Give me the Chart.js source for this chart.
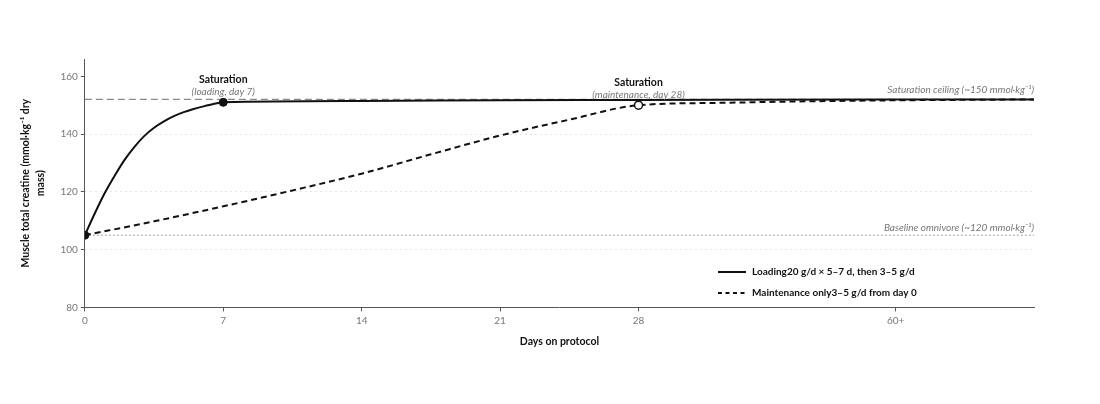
<!DOCTYPE html>
<html>
<head>
<meta charset="utf-8">
<script src="https://cdn.jsdelivr.net/npm/chart.js@4.4.1/dist/chart.umd.min.js"></script>
<style>
  html, body { margin: 0; padding: 0; background: #fff; }
  #wrap { width: 1100px; height: 404px; }
</style>
</head>
<body>
<div id="wrap"><canvas id="creatineChart" width="1100" height="404"></canvas></div>
<script>
// data
const loadingDays = [0, 0.5, 1, 1.5, 2, 2.5, 3, 3.5, 4, 4.5, 5, 5.5, 6, 6.5, 7, 14, 21, 28, 41, 48];
const loadingValues = [105, 112.5, 119.5, 125.5, 131, 135.5, 139.3, 142.2, 144.4, 146.2, 147.6, 148.7, 149.6, 150.4, 151, 151.5, 151.7, 151.8, 152, 152];
const maintDays = [0, 3.5, 7, 10.5, 14, 17.5, 21, 24.5, 28, 32, 36, 41, 48];
const maintValues = [105, 109.8, 115, 120.5, 126.3, 133, 139.5, 145, 150, 150.8, 151.3, 151.7, 152];
const seriesNames = ['Loading20 g/d × 5–7 d, then 3–5 g/d', 'Maintenance only3–5 g/d from day 0'];
const xTickValues = [0, 7, 14, 21, 28, 41];
const xTickLabels = ['0', '7', '14', '21', '28', '60+'];
const yTickValues = [80, 100, 120, 140, 160];
const ceilingValue = 152;
const baselineValue = 105;
const ceilingLabel = 'Saturation ceiling (~150 mmol·kg⁻¹)';
const baselineLabel = 'Baseline omnivore (~120 mmol·kg⁻¹)';
// annotated points: [dataset index, point index, title, subtitle]
const markers = [
  [0, 14, 'Saturation', '(loading, day 7)'],
  [1, 8, 'Saturation', '(maintenance, day 28)']
];

const FONT = "'Source Sans Pro', Lato, 'Noto Sans', sans-serif";

function toPoints(xs, ys) {
  return xs.map((x, i) => ({ x: x, y: ys[i] }));
}

// reference lines + labels + in-plot legend
const overlay = {
  id: 'overlay',
  beforeDatasetsDraw(chart) {
    const { ctx, chartArea, scales } = chart;
    const yC = scales.y.getPixelForValue(ceilingValue);
    const yB = scales.y.getPixelForValue(baselineValue);
    ctx.save();
    ctx.lineWidth = 1.2;
    ctx.strokeStyle = '#8a8a8a';
    ctx.setLineDash([7, 4]);
    ctx.beginPath();
    ctx.moveTo(chartArea.left, yC);
    ctx.lineTo(chartArea.right, yC);
    ctx.stroke();
    ctx.lineWidth = 1;
    ctx.strokeStyle = '#a0a0a0';
    ctx.setLineDash([2, 2]);
    ctx.beginPath();
    ctx.moveTo(chartArea.left, yB);
    ctx.lineTo(chartArea.right, yB);
    ctx.stroke();
    ctx.setLineDash([]);
    ctx.fillStyle = '#777';
    ctx.font = 'italic 10px ' + FONT;
    ctx.textAlign = 'right';
    ctx.textBaseline = 'alphabetic';
    ctx.fillText(ceilingLabel, chartArea.right, yC - 6);
    ctx.fillText(baselineLabel, chartArea.right, yB - 4);
    ctx.restore();
  },
  afterDatasetsDraw(chart) {
    const { ctx } = chart;
    ctx.save();
    ctx.textAlign = 'center';
    markers.forEach(m => {
      const el = chart.getDatasetMeta(m[0]).data[m[1]];
      ctx.fillStyle = '#111';
      ctx.font = 'bold 10.5px ' + FONT;
      ctx.fillText(m[2], el.x, el.y - 19);
      ctx.fillStyle = '#777';
      ctx.font = 'italic 10px ' + FONT;
      ctx.fillText(m[3], el.x, el.y - 7);
    });
    // legend, lower right of the plot
    const lx = 718, ly = [272, 293];
    chart.data.datasets.forEach((ds, i) => {
      ctx.strokeStyle = '#111';
      ctx.lineWidth = 2;
      ctx.setLineDash(i === 1 ? [4, 3.5] : []);
      ctx.beginPath();
      ctx.moveTo(lx, ly[i]);
      ctx.lineTo(lx + 28, ly[i]);
      ctx.stroke();
      ctx.setLineDash([]);
      ctx.fillStyle = '#111';
      ctx.font = 'bold 10px ' + FONT;
      ctx.textAlign = 'left';
      ctx.textBaseline = 'middle';
      ctx.fillText(ds.label, lx + 34, ly[i]);
    });
    ctx.restore();
  }
};

const ctx = document.getElementById('creatineChart').getContext('2d');

new Chart(ctx, {
  type: 'line',
  data: {
    datasets: [{
      label: seriesNames[0],
      data: toPoints(loadingDays, loadingValues),
      borderColor: '#111',
      borderWidth: 2,
      cubicInterpolationMode: 'monotone',
      pointRadius: c => (c.dataIndex === 0 || c.dataIndex === 14) ? 4 : 0,
      pointBackgroundColor: '#111',
      pointBorderColor: '#111',
      pointBorderWidth: 1
    }, {
      label: seriesNames[1],
      data: toPoints(maintDays, maintValues),
      borderColor: '#111',
      borderWidth: 2,
      borderDash: [6, 4],
      cubicInterpolationMode: 'monotone',
      pointRadius: c => c.dataIndex === 8 ? 4 : 0,
      pointBackgroundColor: '#fff',
      pointBorderColor: '#111',
      pointBorderWidth: 1.5
    }]
  },
  options: {
    responsive: false,
    animation: false,
    layout: { padding: { top: 59, right: 66, bottom: 56, left: 18 } },
    scales: {
      x: {
        type: 'linear',
        min: 0,
        max: 48,
        afterBuildTicks: s => { s.ticks = xTickValues.map(v => ({ value: v })); },
        ticks: {
          color: '#777',
          font: { family: FONT, size: 10 },
          padding: 3,
          maxRotation: 0,
          callback: (v) => xTickLabels[xTickValues.indexOf(v)]
        },
        grid: { drawOnChartArea: false, drawTicks: true, tickLength: 4, tickColor: '#555' },
        border: { color: '#555', width: 1 },
        title: {
          display: true,
          text: 'Days on protocol',
          color: '#111',
          font: { family: FONT, size: 10.5, weight: 'bold' },
          padding: { top: 6, bottom: 0 }
        }
      },
      y: {
        min: 80,
        max: 166,
        afterBuildTicks: s => { s.ticks = yTickValues.map(v => ({ value: v })); },
        ticks: {
          color: '#777',
          font: { family: FONT, size: 10 },
          padding: 3
        },
        grid: {
          color: c => (c.tick && (c.tick.value === 80 || c.tick.value === 160)) ? 'rgba(0,0,0,0)' : '#e6e6e6',
          tickColor: '#555',
          tickLength: 4,
          lineWidth: 1
        },
        border: { color: '#555', width: 1, dash: [2, 3] },
        title: {
          display: true,
          text: ['Muscle total creatine (mmol·kg⁻¹ dry', 'mass)'],
          color: '#111',
          font: { family: FONT, size: 10.5, weight: 'bold', lineHeight: 1.45 },
          padding: { top: 0, bottom: 9 }
        }
      }
    },
    plugins: {
      legend: { display: false },
      tooltip: { enabled: false }
    }
  },
  plugins: [overlay]
});
</script>
</body>
</html>
